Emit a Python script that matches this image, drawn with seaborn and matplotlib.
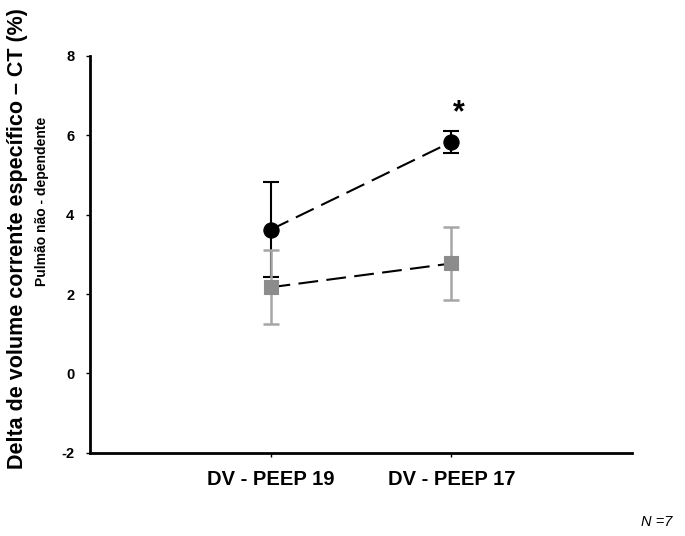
import matplotlib
matplotlib.use("Agg")
import matplotlib.pyplot as plt
import seaborn as sns
import pandas as pd

# ===================== data =====================
categories = ["DV - PEEP 19", "DV - PEEP 17"]
black_mean = [3.62, 5.83]
black_err = [1.2, 0.28]
gray_mean = [2.17, 2.77]
gray_err = [0.93, 0.92]
y_ticks = [-2, 0, 2, 4, 6, 8]

# ===================== style =====================
sns.set_style("white")
plt.rcParams["font.family"] = ["Liberation Sans", "DejaVu Sans"]
plt.rcParams["text.color"] = "black"
plt.rcParams["xtick.color"] = "black"
plt.rcParams["ytick.color"] = "black"

fig = plt.figure(figsize=(6.85, 5.36), dpi=100)
ax = fig.add_axes([0.131, 0.155, 0.792, 0.741])

df = pd.DataFrame({
    "cond": categories * 2,
    "value": black_mean + gray_mean,
    "group": ["black"] * 2 + ["gray"] * 2,
})

# error bars first so markers sit on top
ax.errorbar(categories, black_mean, yerr=black_err, fmt="none",
            ecolor="black", elinewidth=1.5, capsize=6, capthick=1.5, zorder=2)
ax.errorbar(categories, gray_mean, yerr=gray_err, fmt="none",
            ecolor="#a6a6a6", elinewidth=1.8, capsize=6, capthick=1.8, zorder=3)

sns.lineplot(data=df[df.group == "black"], x="cond", y="value", ax=ax,
             color="black", marker="o", markersize=11, markeredgecolor="black",
             linewidth=1.5, zorder=4)
sns.lineplot(data=df[df.group == "gray"], x="cond", y="value", ax=ax,
             color="black", linewidth=1.5, zorder=4)
sns.scatterplot(data=df[df.group == "gray"], x="cond", y="value", ax=ax,
                color="#8c8c8c", marker="s", s=100, edgecolor="#8c8c8c",
                zorder=5)
for ln in ax.lines:
    if ln.get_linestyle() == "-" and len(ln.get_xdata()) == 2:
        ln.set_dashes((9.5, 4))

ax.set_xlim(-1, 2)
ax.set_ylim(-2, 8)
ax.set_yticks(y_ticks)
ax.set_yticklabels([str(t) for t in y_ticks], fontsize=10.5, fontweight="bold")
ax.set_xticks([0, 1])
ax.set_xticklabels(categories, fontsize=14.5, fontweight="bold")
ax.tick_params(axis="x", pad=9, length=3, width=1, direction="out", bottom=True)
ax.tick_params(axis="y", pad=8, length=3, width=1, direction="out", left=True)
ax.set_xlabel("")
ax.set_ylabel("")

sns.despine(ax=ax)
for s in ["left", "bottom"]:
    ax.spines[s].set_linewidth(2)
    ax.spines[s].set_color("black")

ax.text(1.04, 6.55, "*", fontsize=22, fontweight="bold", ha="center", va="center")

fig.text(0.025, 0.555, "Delta de volume corrente específico – CT (%)",
         rotation=90, fontsize=15.5, fontweight="bold", ha="center", va="center")
fig.text(0.062, 0.625, "Pulmão não - dependente",
         rotation=90, fontsize=10, fontweight="bold", ha="center", va="center")
fig.text(0.959, 0.026, "N =7", fontsize=10.5, style="italic", ha="center", va="center")

fig.savefig("out.png", dpi=100)
